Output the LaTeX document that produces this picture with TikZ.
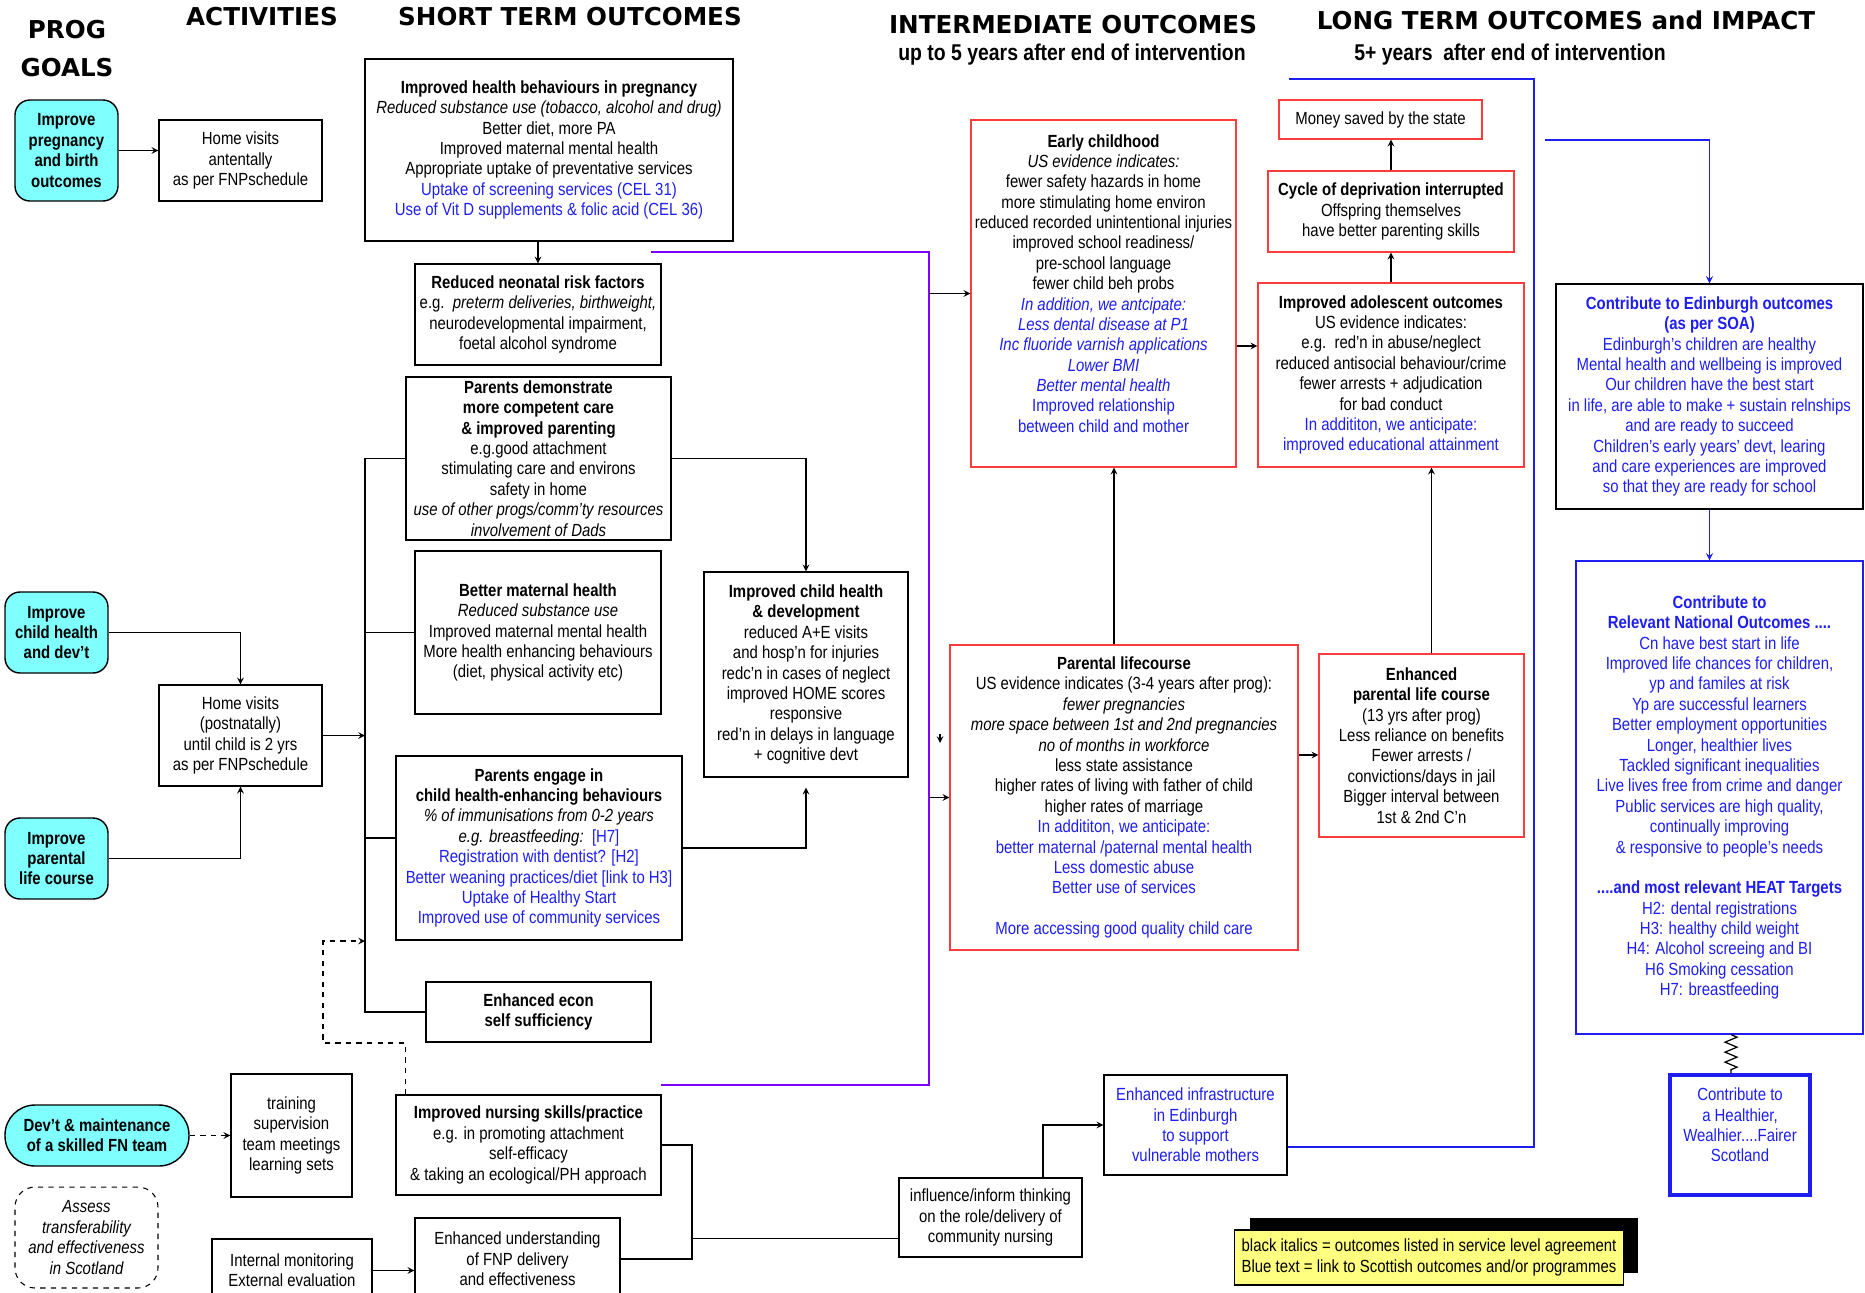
\documentclass[tikz,border=0pt]{standalone}
\usepackage{fontspec}
\setmainfont{Liberation Sans}[FakeStretch=0.85]
\newfontfamily\headfont{DejaVu Sans}
\usetikzlibrary{shadows,decorations.pathmorphing}
\definecolor{goalcyan}{RGB}{128,255,255}
\definecolor{fnpblue}{RGB}{30,30,240}
\definecolor{fnpred}{RGB}{255,60,60}
\definecolor{fnppurple}{RGB}{128,0,255}
\definecolor{keyyellow}{RGB}{255,255,128}
\newcommand{\bt}[1]{\textcolor{fnpblue}{#1}}
\tikzset{>=stealth,
  box/.style={draw, line width=0.8pt, align=center, inner sep=1pt, font=\fontsize{10}{11.6}\selectfont},
  redbox/.style={box, draw=fnpred},
  goal/.style={box, fill=goalcyan, rounded corners=0.3cm, font=\bfseries\fontsize{10}{11.6}\selectfont},
  heading/.style={font=\headfont\bfseries\fontsize{14}{16}\selectfont},
  subheading/.style={font=\bfseries\fontsize{13}{15}\selectfont},
  link/.style={line width=0.7pt},
  bluelink/.style={line width=0.8pt, draw=fnpblue},
  purplelink/.style={line width=0.8pt, draw=fnppurple}}

\begin{document}
\begin{tikzpicture}[x=0.02cm, y=-0.02cm]
\useasboundingbox (0,0) rectangle (1865,1292);
\clip (0,0) rectangle (1865,1292);
% headings
\node[heading] (hProg) at (67,30) {PROG};
\node[heading] (hGoals) at (67,68) {GOALS};
\node[heading] (hAct) at (262,17) {ACTIVITIES};
\node[heading] (hShort) at (570,17) {SHORT TERM OUTCOMES};
\node[heading] (hInter) at (1073,25) {INTERMEDIATE OUTCOMES};
\node[subheading] (hInterSub) at (1072,55) {up to 5 years after end of intervention};
\node[heading] (hLong) at (1566,20) {LONG TERM OUTCOMES and IMPACT};
\node[subheading] (hLongSub) at (1510,55) {5+ years\ \ after end of intervention};

% programme goals
\node[goal, minimum width=2.06cm, minimum height=2.02cm] (goal1) at (66.5,150.5) {Improve\\pregnancy\\and birth\\outcomes};
\node[goal, minimum width=2.06cm, minimum height=1.62cm] (goal2) at (56.5,632.5) {Improve\\child health\\and dev't};
\node[goal, minimum width=2.06cm, minimum height=1.62cm] (goal3) at (56.5,858.5) {Improve\\parental\\life course};
\node[goal, rounded corners=0.6cm, minimum width=3.68cm, minimum height=1.22cm] (dev) at (97,1135.5) {Dev't \& maintenance\\of a skilled FN team};
\node[box, dashed, line width=0.6pt, rounded corners=0.4cm, minimum width=2.86cm, minimum height=2.02cm, font=\itshape\fontsize{10}{11.6}\selectfont] (ass) at (86.5,1237.5) {Assess\\transferability\\and effectiveness\\in Scotland};

% activities
\node[box, minimum width=3.26cm, minimum height=1.62cm] (hvA) at (240.5,160.5) {Home visits\\antentally\\as per FNPschedule};
\node[box, minimum width=3.26cm, minimum height=2.02cm] (hvP) at (240.5,735.5) {Home visits\\(postnatally)\\until child is 2 yrs\\as per FNPschedule};
\node[box, minimum width=2.42cm, minimum height=2.46cm] (trn) at (291.5,1135.5) {training\\supervision\\team meetings\\learning sets};
\node[box, minimum width=3.20cm, minimum height=1.26cm] (int) at (292,1270.5) {Internal monitoring\\External evaluation};

% short term outcomes
\node[box, minimum width=7.36cm, minimum height=3.64cm] (sth) at (549,150) {\textbf{Improved health behaviours in pregnancy}\\\textit{Reduced substance use (tobacco, alcohol and drug)}\\Better diet, more PA\\Improved maternal mental health\\Appropriate uptake of preventative services\\\bt{Uptake of screening services (CEL 31)}\\\bt{Use of Vit D supplements \& folic acid (CEL 36)}};
\node[box, minimum width=4.92cm, minimum height=2.02cm] (neo) at (538,314.5) {\textbf{Reduced neonatal risk factors}\\e.g.\ \ \textit{preterm deliveries, birthweight,}\\neurodevelopmental impairment,\\foetal alcohol syndrome};
\node[box, minimum width=5.30cm, minimum height=3.26cm] (par) at (538.5,458.5) {\textbf{Parents demonstrate}\\\textbf{more competent care}\\\textbf{\& improved parenting}\\e.g.good attachment\\stimulating care and environs\\safety in home\\\textit{use of other progs/comm'ty resources}\\\textit{involvement of Dads}};
\node[box, minimum width=4.92cm, minimum height=3.26cm] (mat) at (538,632.5) {\textbf{Better maternal health}\\\textit{Reduced substance use}\\Improved maternal mental health\\More health enhancing behaviours\\(diet, physical activity etc)};
\node[box, minimum width=4.08cm, minimum height=4.10cm] (chd) at (806,674.5) {\textbf{Improved child health}\\\textbf{\& development}\\reduced A+E visits\\and hosp'n for injuries\\redc'n in cases of neglect\\improved HOME scores\\responsive\\red'n in delays in language\\+ cognitive devt};
\node[box, minimum width=5.72cm, minimum height=3.68cm] (eng) at (539,848) {\textbf{Parents engage in}\\\textbf{child health-enhancing behaviours}\\\textit{\% of immunisations from 0-2 years}\\\textit{e.g. breastfeeding:}\ \ \bt{[H7]}\\\bt{Registration with dentist? [H2]}\\\bt{Better weaning practices/diet [link to H3]}\\\bt{Uptake of Healthy Start}\\\bt{Improved use of community services}};
\node[box, minimum width=4.50cm, minimum height=1.20cm] (eco) at (538.5,1012) {\textbf{Enhanced econ}\\\textbf{self sufficiency}};
\node[box, minimum width=5.30cm, minimum height=2.00cm] (nur) at (528.5,1145) {\textbf{Improved nursing skills/practice}\\e.g. in promoting attachment\\self-efficacy\\\& taking an ecological/PH approach};
\node[box, minimum width=4.10cm, minimum height=1.64cm] (und) at (517.5,1259) {Enhanced understanding\\of FNP delivery\\and effectiveness};
\node[box, minimum width=3.66cm, minimum height=1.58cm] (inf) at (990.5,1217.5) {influence/inform thinking\\on the role/delivery of\\community nursing};
\node[box, text=fnpblue, minimum width=3.66cm, minimum height=2.00cm] (ifr) at (1195.5,1125) {Enhanced infrastructure\\in Edinburgh\\to support\\vulnerable mothers};

% intermediate outcomes
\node[redbox, minimum width=5.30cm, minimum height=6.94cm] (ear) at (1103.5,293.5) {\textbf{Early childhood}\\\textit{US evidence indicates:}\\fewer safety hazards in home\\more stimulating home environ\\reduced recorded unintentional injuries\\improved school readiness/\\pre-school language\\fewer child beh probs\\\bt{\textit{In addition, we antcipate:}}\\\bt{\textit{Less dental disease at P1}}\\\bt{\textit{Inc fluoride varnish applications}}\\\bt{\textit{Lower BMI}}\\\bt{\textit{Better mental health}}\\\bt{Improved relationship}\\\bt{between child and mother}\\\mbox{}};
\node[redbox, minimum width=6.96cm, minimum height=6.10cm] (plc) at (1124,797.5) {\textbf{Parental lifecourse}\\US evidence indicates (3-4 years after prog):\\\textit{fewer pregnancies}\\\textit{more space between 1st and 2nd pregnancies}\\\textit{no of months in workforce}\\less state assistance\\higher rates of living with father of child\\higher rates of marriage\\\bt{In addititon, we anticipate:}\\\bt{better maternal /paternal mental health}\\\bt{Less domestic abuse}\\\bt{Better use of services}\\\mbox{}\\\bt{More accessing good quality child care}};

% long term outcomes
\node[redbox, minimum width=4.06cm, minimum height=0.78cm] (mon) at (1380.5,119.5) {Money saved by the state};
\node[redbox, minimum width=4.92cm, minimum height=1.62cm] (cyc) at (1391,211.5) {\textbf{Cycle of deprivation interrupted}\\Offspring themselves\\have better parenting skills};
\node[redbox, minimum width=5.32cm, minimum height=3.68cm] (ado) at (1391,375) {\textbf{Improved adolescent outcomes}\\US evidence indicates:\\e.g.\ \ red'n in abuse/neglect\\reduced antisocial behaviour/crime\\fewer arrests + adjudication\\for bad conduct\\\bt{In addititon, we anticipate:}\\\bt{improved educational attainment}};
\node[redbox, minimum width=4.10cm, minimum height=3.66cm] (epl) at (1421.5,745.5) {\textbf{Enhanced}\\\textbf{parental life course}\\(13 yrs after prog)\\Less reliance on benefits\\Fewer arrests /\\convictions/days in jail\\Bigger interval between\\1st \& 2nd C'n};
\node[box, text=fnpblue, minimum width=6.14cm, minimum height=4.50cm] (edi) at (1709.5,396.5) {\textbf{Contribute to Edinburgh outcomes}\\\textbf{(as per SOA)}\\Edinburgh's children are healthy\\Mental health and wellbeing is improved\\Our children have the best start\\in life, are able to make + sustain relnships\\and are ready to succeed\\Children's early years' devt, learing\\and care experiences are improved\\so that they are ready for school};
\node[box, draw=fnpblue, text=fnpblue, minimum width=5.74cm, minimum height=9.46cm] (nat) at (1719.5,797.5) {\textbf{Contribute to}\\\textbf{Relevant National Outcomes ....}\\Cn have best start in life\\Improved life chances for children,\\yp and familes at risk\\Yp are successful learners\\Better employment opportunities\\Longer, healthier lives\\Tackled significant inequalities\\Live lives free from crime and danger\\Public services are high quality,\\continually improving\\\& responsive to people's needs\\\mbox{}\\\textbf{....and most relevant HEAT Targets}\\H2: dental registrations\\H3: healthy child weight\\H4: Alcohol screeing and BI\\H6 Smoking cessation\\H7: breastfeeding};
\node[box, draw=fnpblue, line width=1.8pt, text=fnpblue, minimum width=2.80cm, minimum height=2.40cm] (sco) at (1740,1135) {Contribute to\\a Healthier,\\Wealhier....Fairer\\Scotland\\\mbox{}};
\node[box, fill=keyyellow, align=left, inner sep=4pt, minimum width=7.68cm, minimum height=1.10cm, drop shadow={shadow xshift=0.3cm, shadow yshift=0.24cm, opacity=1, fill=black}] (key) at (1429,1257.5) {black italics = outcomes listed in service level agreement\\Blue text = link to Scottish outcomes and/or programmes};

% connectors, left part
\coordinate (tk) at (365,0);
\draw[link,->] (goal1.east) -- (goal1.east -| hvA.west);
\draw[link,->] (goal2.east) -| (hvP.north);
\draw[link,->] (goal3.east) -| (hvP.south);
\draw[link,->] (hvP.east) -- (hvP.east -| tk);
\draw[link] (par.west) -- (par.west -| tk) -- (eco.west -| tk) -- (eco.west);
\draw[link] (mat.west) -- (mat.west -| tk);
\draw[link] ([yshift=0.2cm]eng.west) -- ([yshift=0.2cm]eng.west -| tk);
\draw[link,->] (neo.north |- sth.south) -- (neo.north);
\coordinate (dA) at (323,1043);
\coordinate (dB) at (365,941);
\draw[link,dashed,->] ([xshift=0.2cm]nur.north west) |- (dA) |- (dB);
\draw[link,dashed,->] (dev.east) -- (trn.west);
\draw[link,->] (int.east) -- (int.east -| und.west);
\coordinate (jx) at (692,0);
\draw[link] (nur.east) -| (und.east -| jx) -- (und.east);
\draw[link] ([yshift=-0.42cm]inf.west) -- ([yshift=-0.42cm]inf.west -| jx);
\draw[link,->] ([xshift=1.05cm]inf.north) |- (ifr.west);
\draw[link,->] (par.east) -| (chd.north);
\draw[link,->] (eng.east) -| ([yshift=-0.2cm]chd.south);

% bracket into intermediate outcomes
\coordinate (pu1) at (651,252);
\coordinate (pu3) at (929,1085);
\coordinate (pu4) at (661,1085);
\draw[purplelink] (pu1) -| (pu3) -- (pu4);
\draw[link,->] (ear.west -| pu3) -- (ear.west);
\draw[link,->] (plc.west -| pu3) -- (plc.west);
\coordinate (stray) at (940,734);
\draw[link,->] (stray) -- ++(0,9);

% intermediate to long term
\draw[link,->] ([yshift=-1.05cm]ear.east) -- ([yshift=-1.05cm]ear.east -| ado.west);
\draw[link,->] (ado.north) -- (cyc.south);
\draw[link,->] (cyc.north) -- (cyc.north |- mon.south);
\draw[link,->] ([xshift=-0.2cm]plc.north) -- ([xshift=-0.2cm]plc.north |- ear.south);
\draw[link,->] ([xshift=0.2cm]epl.north) -- ([xshift=0.2cm]epl.north |- ado.south);
\draw[link,->] ([yshift=0.85cm]plc.east) -- ([yshift=0.85cm]plc.east -| epl.west);

% blue links to impact
\coordinate (ltR) at (1534,79);
\coordinate (ltL) at (1289,79);
\coordinate (edA) at (1545,140);
\draw[bluelink] ([yshift=-0.44cm]ifr.east) -| (ltR) -- (ltL);
\draw[bluelink,->] (edA) -| (edi.north);
\draw[bluelink,->] (edi.south) -- (edi.south |- nat.north);
\draw[link, decorate, decoration={zigzag, segment length=0.2cm, amplitude=0.12cm}] ([xshift=-0.18cm]sco.north |- nat.south) -- ([xshift=-0.18cm]sco.north);
\end{tikzpicture}
\end{document}
